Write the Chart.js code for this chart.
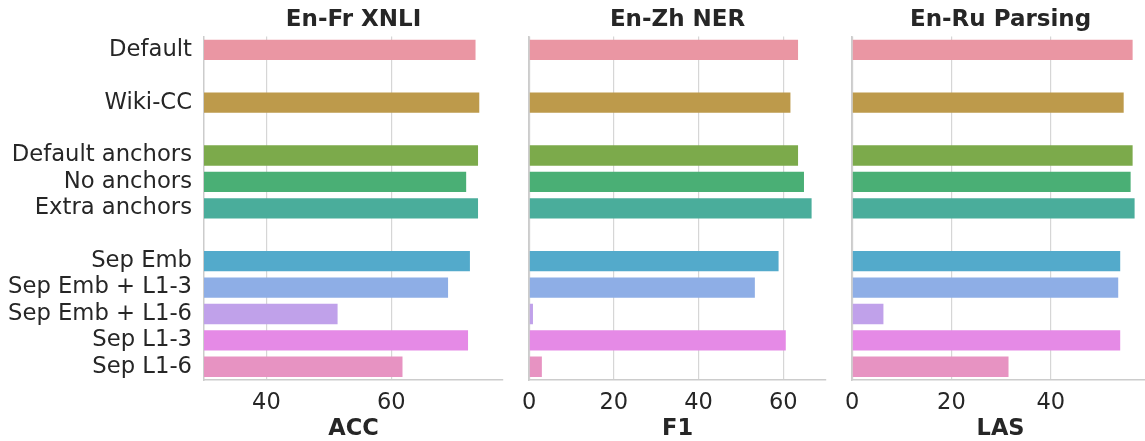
<!DOCTYPE html>
<html>
<head>
<meta charset="utf-8">
<script src="https://cdn.jsdelivr.net/npm/chart.js@4.4.1/dist/chart.umd.min.js"></script>
<style>
    html, body { margin: 0; padding: 0; background: #fff; overflow: hidden; }
    #wrap { position: relative; width: 1145px; height: 441px; }
    .panel { position: absolute; top: 0; height: 441px; }
</style>
</head>
<body>
<div id="wrap">
    <div class="panel" style="left:0px;width:510px"><canvas id="xnliChart"></canvas></div>
    <div class="panel" style="left:512px;width:323px"><canvas id="nerChart"></canvas></div>
    <div class="panel" style="left:835px;width:314px"><canvas id="parsingChart"></canvas></div>
</div>
<script>
// '' rows are the gaps between groups
const rows = ['Default', '', 'Wiki-CC', '', 'Default anchors', 'No anchors', 'Extra anchors', '',
    'Sep Emb', 'Sep Emb + L1-3', 'Sep Emb + L1-6', 'Sep L1-3', 'Sep L1-6'];

const xnliAcc    = [73.5, null, 74.1, null, 73.9, 72.0, 73.9, null, 72.6, 69.1, 51.4, 72.3, 61.8];
const nerF1      = [63.5, null, 61.7, null, 63.5, 64.9, 66.7, null, 58.9, 53.3, 0.9, 60.6, 3.0];
const parsingLas = [56.5, null, 54.7, null, 56.5, 56.1, 56.9, null, 54.0, 53.6, 6.3, 54.0, 31.5];

const xnliTicks = [40, 60];
const nerTicks = [0, 20, 40, 60];
const parsingTicks = [0, 20, 40];

const barColors = [
    '#ea96a3', // Default
    null,
    '#bd9a4b', // Wiki-CC
    null,
    '#7caa4b', // Default anchors
    '#4aaf75', // No anchors
    '#4aad9b', // Extra anchors
    null,
    '#53aacb', // Sep Emb
    '#8eaee6', // Sep Emb + L1-3
    '#c0a1ea', // Sep Emb + L1-6
    '#e58ae6', // Sep L1-3
    '#e793c2'  // Sep L1-6
];

Chart.defaults.font.family = "'DejaVu Sans', sans-serif";
Chart.defaults.color = '#262626';

function makePanel(canvasId, title, axisTitle, values, min, max, tickValues, showLabels, yWidth, padRight) {
    const ctx = document.getElementById(canvasId).getContext('2d');
    return new Chart(ctx, {
        type: 'bar',
        data: {
            labels: rows,
            datasets: [{
                data: values,
                backgroundColor: barColors,
                borderWidth: 0,
                categoryPercentage: 1,
                barPercentage: 0.77
            }]
        },
        options: {
            indexAxis: 'y',
            responsive: true,
            maintainAspectRatio: false,
            animation: false,
            layout: { padding: { left: 0, right: padRight, top: 0, bottom: 0 } },
            plugins: {
                legend: { display: false },
                tooltip: { enabled: false },
                title: {
                    display: true,
                    text: title,
                    fullSize: false,
                    font: { size: 23, weight: 'bold' },
                    color: '#262626',
                    padding: { top: 6, bottom: 3 }
                }
            },
            scales: {
                x: {
                    min: min,
                    max: max,
                    afterBuildTicks: scale => {
                        scale.ticks = tickValues.map(v => ({ value: v }));
                    },
                    afterFit: scale => { scale.height = 61; },
                    grid: { color: '#d6d6d6', lineWidth: 1.2, drawTicks: false },
                    border: { color: '#cccccc', width: 1.5 },
                    ticks: { font: { size: 22.5 }, color: '#262626', padding: 10 },
                    title: {
                        display: true,
                        text: axisTitle,
                        font: { size: 22.5, weight: 'bold' },
                        color: '#262626',
                        padding: { top: 0, bottom: -2 }
                    }
                },
                y: {
                    afterFit: scale => { scale.width = yWidth; },
                    grid: { display: false, drawTicks: false },
                    border: { color: '#cccccc', width: 1.5 },
                    ticks: {
                        display: showLabels,
                        autoSkip: false,
                        font: { size: 22.7 },
                        color: '#262626',
                        padding: 12
                    }
                }
            }
        }
    });
}

window.onload = () => {
    makePanel('xnliChart', 'En-Fr XNLI', 'ACC', xnliAcc, 30, 77.9, xnliTicks, true, 204, 7);
    makePanel('nerChart', 'En-Zh NER', 'F1', nerF1, 0, 70.1, nerTicks, false, 12, 9);
    makePanel('parsingChart', 'En-Ru Parsing', 'LAS', parsingLas, 0, 59.8, parsingTicks, false, 12, 0);
};
</script>
</body>
</html>
